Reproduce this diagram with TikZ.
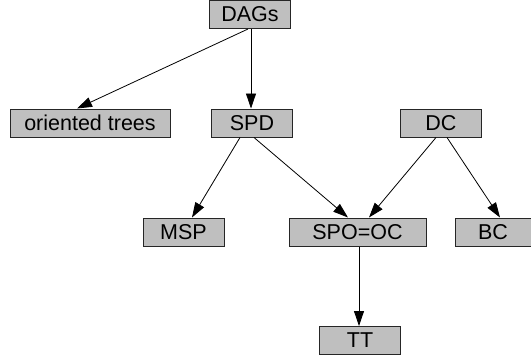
\documentclass[tikz,border=0pt]{standalone}
\usepackage{fontspec}
\setmainfont{Liberation Sans}
\usetikzlibrary{arrows.meta}
\begin{document}
\begin{tikzpicture}[x=1pt,y=-1pt,
  box/.style={draw=black!85, line width=1pt, fill=black!25, minimum height=28pt, minimum width=81pt, inner sep=0pt, font=\fontsize{21.5}{21.5}\selectfont},
  edge/.style={line width=0.8pt, -{Triangle[length=15pt,width=10pt]}}]
\useasboundingbox (0,0) rectangle (531,360);
\node[box] (dags) at (250,14.5) {DAGs};
\node[box, minimum width=160pt] (ot) at (90,123) {oriented trees};
\node[box] (spd) at (252,123) {SPD};
\node[box] (dc) at (441,123) {DC};
\node[box] (msp) at (183.5,232) {MSP};
\node[box, minimum width=137pt] (spo) at (357.5,232) {SPO=OC};
\node[box, minimum width=76pt] (bc) at (493,232) {BC};
\node[box] (tt) at (360,340.5) {TT};
\draw[edge] ([xshift=-2pt]dags.south) -- ([xshift=-13pt]ot.north);
\draw[edge] ([xshift=1pt]dags.south) -- ([xshift=-1pt]spd.north);
\draw[edge] ([xshift=-12pt]spd.south) -- ([xshift=8.5pt]msp.north);
\draw[edge] ([xshift=2pt]spd.south) -- ([xshift=-9.5pt]spo.north);
\draw[edge] ([xshift=-5pt]dc.south) -- ([xshift=11.5pt]spo.north);
\draw[edge] ([xshift=6pt]dc.south) -- ([xshift=7pt]bc.north);
\draw[edge] ([xshift=1.5pt]spo.south) -- ([xshift=-1pt]tt.north);
\end{tikzpicture}
\end{document}
